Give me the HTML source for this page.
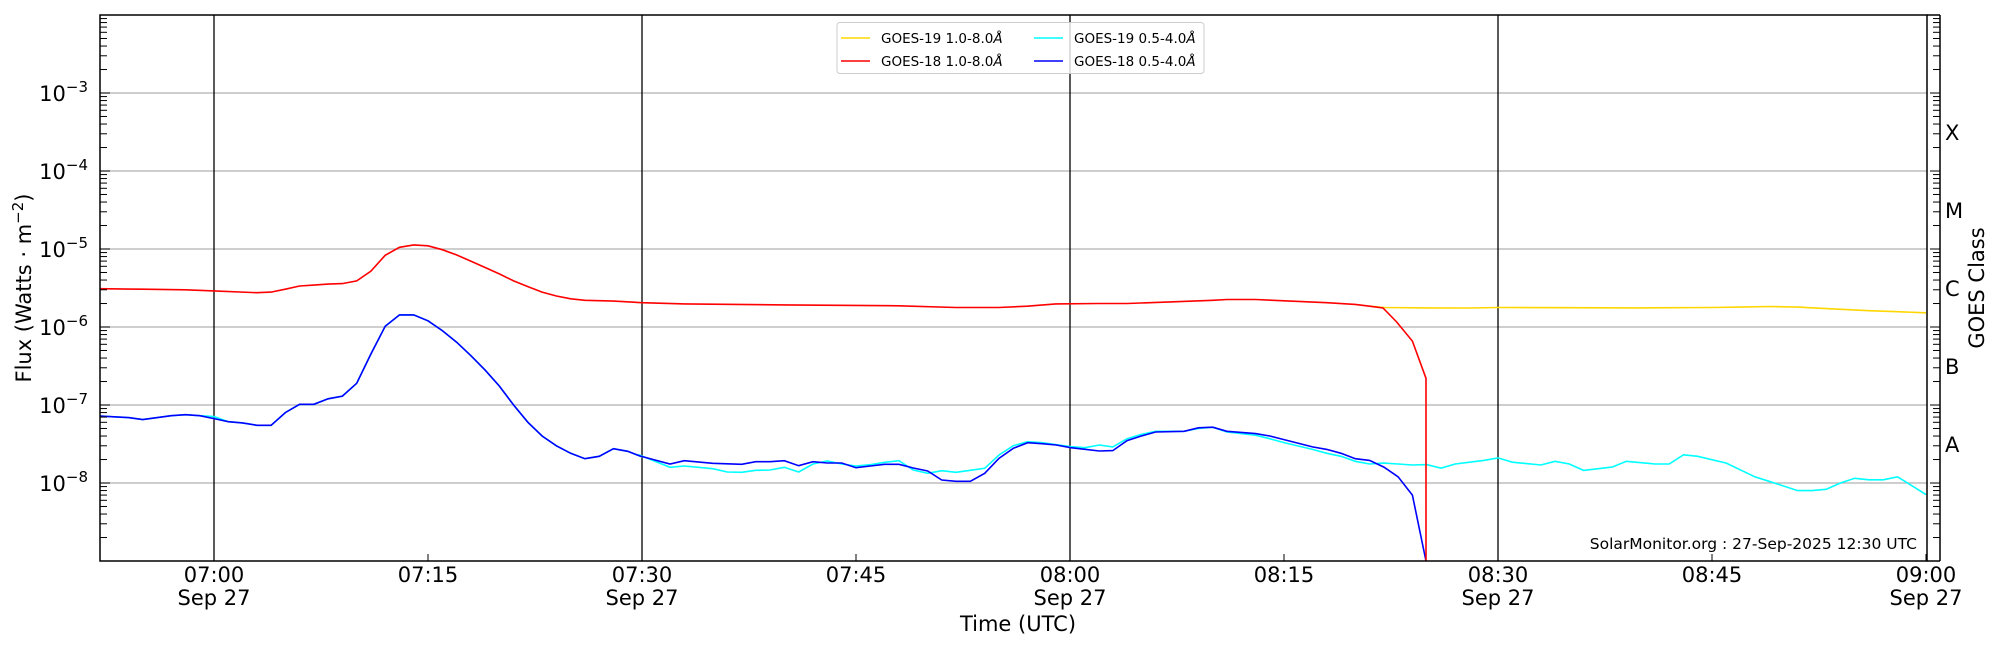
<!DOCTYPE html>
<html><head><meta charset="utf-8"><style>
html,body{margin:0;padding:0;background:#fff;}
svg{display:block;font-family:"DejaVu Sans","Liberation Sans",sans-serif;}
</style></head><body>
<svg id="s" width="2000" height="650" viewBox="0 0 2000 650" xmlns="http://www.w3.org/2000/svg">
<rect width="2000" height="650" fill="#fff"/>
<g id="grid"></g>
<g id="series"></g>
<g id="axes"></g>
<rect x="837" y="22.5" width="367" height="51" rx="3" fill="#fff" fill-opacity="0.8" stroke="#ccc" stroke-width="1"/>
<line x1="841" y1="38" x2="870" y2="38" stroke="#ffd700" stroke-width="1.5"/>
<line x1="841" y1="61" x2="870" y2="61" stroke="#ff0000" stroke-width="1.5"/>
<line x1="1034" y1="38" x2="1063" y2="38" stroke="#00ffff" stroke-width="1.5"/>
<line x1="1034" y1="61" x2="1063" y2="61" stroke="#0000ff" stroke-width="1.5"/>
<g font-size="13.5" fill="#000">
<text x="881" y="43">GOES-19 1.0-8.0<tspan font-style="italic">Å</tspan></text>
<text x="881" y="66">GOES-18 1.0-8.0<tspan font-style="italic">Å</tspan></text>
<text x="1074" y="43">GOES-19 0.5-4.0<tspan font-style="italic">Å</tspan></text>
<text x="1074" y="66">GOES-18 0.5-4.0<tspan font-style="italic">Å</tspan></text>
</g>
<text x="1917" y="549" font-size="15.5" text-anchor="end">SolarMonitor.org : 27-Sep-2025 12:30 UTC</text>
<text x="1018" y="631" font-size="21" text-anchor="middle">Time (UTC)</text>
<text transform="translate(31,288) rotate(-90)" font-size="21" text-anchor="middle">Flux (Watts · m<tspan dy="-8" font-size="15">−2</tspan><tspan dy="8">)</tspan></text>
<text transform="translate(1984,288) rotate(-90)" font-size="21" text-anchor="middle">GOES Class</text>
</svg>
<script>
var NS="http://www.w3.org/2000/svg";
function X(m){return 214+m*14.2667;}
function Y(L){return 93+(-3-L)*78;}
function el(p,t,a,txt){var e=document.createElementNS(NS,t);for(var k in a)e.setAttribute(k,a[k]);if(txt!==undefined)e.textContent=txt;p.appendChild(e);return e;}
var G=document.getElementById('grid'),S=document.getElementById('series'),A=document.getElementById('axes');
var L=100,R=1927,T=15,B=561;
for(var d=-8;d<=-3;d++)el(G,'line',{x1:L,x2:R,y1:Y(d),y2:Y(d),stroke:'#b0b0b0','stroke-width':1.2});
[0,30,60,90].forEach(function(m){el(G,'line',{x1:X(m),x2:X(m),y1:T,y2:B,stroke:'#000','stroke-width':1.3});});
function pts(arr){return arr.map(function(p){return X(p[0]).toFixed(1)+','+Y(Math.log10(p[1])).toFixed(1);}).join(' ');}
function raw(arr){return arr.map(function(p){return (640+p[0]/3).toFixed(1)+','+(390+p[1]/3).toFixed(1);}).join(' ');}
var red=[[-8,3.1e-6],[-5,3.05e-6],[-2,3.0e-6],[0,2.9e-6],[3,2.75e-6],[4,2.8e-6],[5,3.05e-6],[6,3.35e-6],[7,3.45e-6],[8,3.55e-6],[9,3.6e-6],[10,3.9e-6],[11,5.2e-6],[12,8.3e-6],[13,1.05e-5],[14,1.13e-5],[15,1.1e-5],[16,9.8e-6],[17,8.4e-6],[18,7e-6],[19,5.8e-6],[20,4.8e-6],[21,3.9e-6],[22,3.3e-6],[23,2.8e-6],[24,2.5e-6],[25,2.3e-6],[26,2.2e-6],[28,2.15e-6],[30,2.05e-6],[33,1.98e-6],[40,1.92e-6],[48,1.87e-6],[52,1.78e-6],[55,1.78e-6],[57,1.85e-6],[59,1.98e-6],[62,2.0e-6],[64,2.0e-6],[67,2.1e-6],[70,2.2e-6],[71,2.25e-6],[73,2.25e-6],[78,2.05e-6],[80,1.95e-6],[81,1.85e-6],[81.94,1.75e-6],[82.9,1.16e-6],[84.0,6.6e-7],[84.95,2.2e-7]];
var yel=[[81,1.85e-6],[82,1.78e-6],[85,1.76e-6],[88,1.75e-6],[90,1.78e-6],[95,1.77e-6],[100,1.76e-6],[105,1.78e-6],[107,1.8e-6],[109,1.83e-6],[111,1.8e-6],[113,1.72e-6],[116,1.62e-6],[118,1.57e-6],[120,1.52e-6]];
var bpre=[[-8,7.2e-8],[-6,6.9e-8],[-5,6.5e-8],[-3,7.3e-8],[-2,7.5e-8],[-1,7.3e-8],[0,6.7e-8],[1,6.1e-8],[2,5.9e-8],[3,5.5e-8],[4,5.5e-8],[5,8e-8],[6,1.02e-7],[7,1.02e-7],[8,1.2e-7],[9,1.3e-7],[10,1.9e-7],[11,4.5e-7],[12,1.02e-6],[13,1.43e-6],[14,1.43e-6],[15,1.2e-6],[16,9e-7],[17,6.4e-7],[18,4.3e-7],[19,2.8e-7],[20,1.75e-7],[21,1.0e-7],[22,6e-8],[23,4e-8],[24,3.0e-8],[25,2.4e-8],[26,2.05e-8],[27,2.2e-8],[28,2.75e-8],[29,2.55e-8],[29.9,2.2e-8]];
var cpre=bpre.map(function(p){return p[0]==0?[0,7.1e-8]:p;});
var bmid=[[0,198],[90,222],[133,212],[218,220],[305,223],[347,215],[390,215],[433,212],[476,227],[519,215],[562,219],[605,219],[648,233],[691,228],[734,223],[777,223],[820,234],[863,243],[905,270],[948,274],[991,274],[1034,250],[1077,205],[1120,175],[1163,158],[1206,161],[1249,165],[1292,173],[1335,178],[1378,183]];
var cmid=[[0,196],[90,232],[133,228],[218,236],[262,246],[305,247],[347,241],[390,240],[433,232],[476,246],[519,222],[562,213],[605,222],[648,228],[691,224],[734,217],[777,212],[820,240],[863,250],[905,242],[948,247],[991,241],[1034,235],[1077,195],[1120,167],[1163,155],[1206,158],[1249,164],[1292,170],[1335,173],[1378,165]];
var bpost=[[63,2.6e-8],[64,3.5e-8],[65,4.0e-8],[66,4.5e-8],[68,4.6e-8],[69,5.1e-8],[70,5.2e-8],[71,4.6e-8],[73,4.3e-8],[74,4.0e-8],[75,3.6e-8],[77,2.9e-8],[78,2.7e-8],[79,2.4e-8],[80,2.05e-8],[81,1.95e-8],[82,1.6e-8],[83,1.2e-8],[84,7e-9],[84.95,1.0e-9]];
var cpost=[[63,2.9e-8],[64,3.7e-8],[65,4.2e-8],[66,4.6e-8],[68,4.6e-8],[69,5.0e-8],[70,5.2e-8],[71,4.5e-8],[73,4.1e-8],[74,3.7e-8],[75,3.3e-8],[77,2.7e-8],[78,2.4e-8],[79,2.2e-8],[80,1.9e-8],[81,1.75e-8],[82,1.8e-8],[83,1.75e-8],[84,1.7e-8],[85,1.72e-8],[86,1.55e-8],[87,1.75e-8],[89,1.95e-8],[90,2.1e-8],[91,1.85e-8],[93,1.7e-8],[94,1.9e-8],[95,1.75e-8],[96,1.45e-8],[98,1.6e-8],[99,1.9e-8],[101,1.75e-8],[102,1.75e-8],[103,2.3e-8],[104,2.2e-8],[106,1.8e-8],[108,1.2e-8],[109,1.05e-8],[111,8e-9],[112,8e-9],[113,8.3e-9],[114,1.0e-8],[115,1.15e-8],[116,1.1e-8],[117,1.1e-8],[118,1.2e-8],[120,7.1e-9]];
el(S,'polyline',{points:pts(cpre)+' '+raw(cmid)+' '+pts(cpost),fill:'none',stroke:'#00ffff','stroke-width':1.6});
el(S,'polyline',{points:pts(bpre)+' '+raw(bmid)+' '+pts(bpost),fill:'none',stroke:'#0000ff','stroke-width':1.6});
el(S,'polyline',{points:pts(yel),fill:'none',stroke:'#ffd700','stroke-width':1.6});
el(S,'polyline',{points:pts(red)+' '+X(84.95).toFixed(1)+','+B,fill:'none',stroke:'#ff0000','stroke-width':1.6});
el(A,'rect',{x:L,y:T,width:R-L,height:B-T,fill:'none',stroke:'#000','stroke-width':1.5});
el(A,'line',{x1:R,x2:1940,y1:T,y2:T,stroke:'#000','stroke-width':1.5});
el(A,'line',{x1:R,x2:1940,y1:B,y2:B,stroke:'#000','stroke-width':1.5});
el(A,'line',{x1:1940,x2:1940,y1:T,y2:B,stroke:'#000','stroke-width':1.5});
for(var dd=-9;dd<=-2;dd++){for(var k=1;k<=9;k++){var v=dd+Math.log10(k);var y=Y(v);if(y<T-0.5||y>B+0.5)continue;var len=k==1?10:7;
el(A,'line',{x1:L,x2:L+len,y1:y,y2:y,stroke:'#000','stroke-width':1});
el(A,'line',{x1:1940,x2:1940-len,y1:y,y2:y,stroke:'#000','stroke-width':1});}}
for(var d2=-8;d2<=-3;d2++){var t=el(A,'text',{x:88,y:Y(d2)+8,'font-size':21,'text-anchor':'end'});
t.innerHTML='10<tspan dy="-9" font-size="15">−'+(-d2)+'</tspan>';}
[['X',-4],['M',-5],['C',-6],['B',-7],['A',-8]].forEach(function(c){el(A,'text',{x:1945,y:Y(c[1]+0.5)+8,'font-size':21},c[0]);});
[0,15,30,45,60,75,90,105,120].forEach(function(m){var x=X(m);
el(A,'line',{x1:x,x2:x,y1:B,y2:B-7,stroke:'#000','stroke-width':1});
var h=Math.floor(m/60)+7,mm=m%60;var lab=('0'+h).slice(-2)+':'+('0'+mm).slice(-2);
el(A,'text',{x:x,y:582,'font-size':21,'text-anchor':'middle'},lab);
if(m%30==0)el(A,'text',{x:x,y:605,'font-size':21,'text-anchor':'middle'},'Sep 27');});
</script>
</body></html>
